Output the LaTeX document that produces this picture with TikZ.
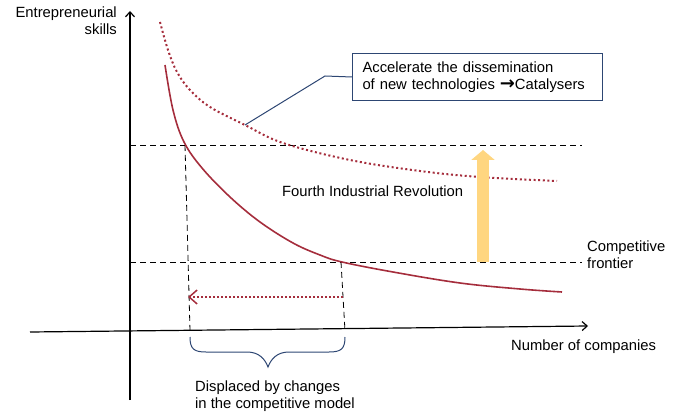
\documentclass[tikz,border=0pt]{standalone}
\usepackage{fontspec}
\setmainfont{Liberation Sans}
\newfontfamily\symfont{DejaVu Sans}
\usetikzlibrary{arrows.meta}
\definecolor{curvered}{RGB}{165,45,60}
\definecolor{leaderblue}{RGB}{45,70,115}
\definecolor{pushyellow}{RGB}{255,214,128}
\begin{document}
\begin{tikzpicture}[x=1pt, y=-1pt,
    txt/.style={font=\fontsize{14.8}{17}\selectfont, inner sep=0pt},
    axis/.style={black, line width=1.2pt, -{Straight Barb[length=5pt, width=9pt]}},
    guide/.style={black, line width=0.8pt, dash pattern=on 6pt off 4pt},
    shifted/.style={curvered, line width=2pt, dash pattern=on 2pt off 2.6pt},
    base/.style={curvered, line width=1.6pt},
    callout/.style={rectangle, draw=leaderblue, line width=1pt, minimum width=250pt, minimum height=47pt, text width=230pt, align=left, inner xsep=10pt, anchor=north west, font=\fontsize{14.8}{17}\selectfont}]

    \useasboundingbox (0,0) rectangle (680,414);

    % Axes
    \coordinate (Ybot) at (130,400);
    \coordinate (Ytop) at (130,11);
    \coordinate (Xleft) at (30,332);
    \coordinate (Xright) at (588,326);
    \draw[axis] (Ybot) -- (Ytop);
    \draw[axis] (Xleft) -- (Xright);
    \node[txt, anchor=north east, align=right] (ylab) at (117,7) {Entrepreneurial\\skills};
    \node[txt, anchor=north west] (xlab) at (511,340) {Number of companies};

    % Guide lines
    \coordinate (H1l) at (130,145);
    \coordinate (H1r) at (582,145);
    \coordinate (H2l) at (130,262);
    \coordinate (H2r) at (582,262);
    \coordinate (A) at (185,145);
    \coordinate (Ab) at (190,331);
    \coordinate (B) at (341,262);
    \coordinate (Bb) at (345,331);
    \draw[guide] (H1l) -- (H1r);
    \draw[guide] (H2l) -- (H2r);
    \draw[guide] (A) -- (Ab);
    \draw[guide] (B) -- (Bb);

    % Curves
    \draw[shifted] plot[smooth, tension=0.6] coordinates {(160,22) (168,50) (177,72) (190,90) (210,107) (245,125) (283,143) (350,160) (420,171) (480,177) (557,181)};
    \draw[base] plot[smooth, tension=0.6] coordinates {(165,65) (173,110) (184,142) (202,168) (230,197) (260,222) (293,243) (320,255) (342,262) (393,272) (460,283) (520,289) (562,292)};

    % Displacement arrow
    \coordinate (Dr) at (343,297);
    \coordinate (Dl) at (188,297);
    \draw[curvered, line width=1.5pt, dash pattern=on 2pt off 2pt, -{Straight Barb[length=8pt, width=14pt, line width=1.5pt]}] (Dr) -- (Dl);

    % Upward push
    \coordinate (Ub) at (483,262);
    \coordinate (Ut) at (483,150);
    \draw[pushyellow, line width=12pt, -{Triangle[length=10pt, width=23pt]}] (Ub) -- (Ut);
    \node[txt, anchor=west] (fir) at (282,191) {Fourth Industrial Revolution};
    \node[txt, anchor=north west, align=left] (front) at (587,241) {Competitive\\frontier};

    % Callout box
    \node[callout] (box) at (352,53) {Accelerate the dissemination\\of new technologies {\symfont\bfseries\fontsize{18}{17}\selectfont →}Catalysers};
    \coordinate (bend) at (325,76);
    \coordinate (dotpt) at (245,125);
    \draw[leaderblue, line width=1pt] (box.west) -- (bend) -- (dotpt);

    % Brace
    \coordinate (Cl) at (190,337);
    \coordinate (Cr) at (345,337);
    \coordinate (tip) at (268,367);
    \draw[leaderblue, line width=1pt] (Cl) .. controls (190,349) and (194,352) .. (206,352) -- (247,352) .. controls (259,352) and (265,359) .. (tip) .. controls (271,359) and (277,352) .. (289,352) -- (329,352) .. controls (341,352) and (345,349) .. (Cr);
    \node[txt, anchor=north west, align=left] (disp) at (195,381) {Displaced by changes\\in the competitive model};

\end{tikzpicture}
\end{document}
